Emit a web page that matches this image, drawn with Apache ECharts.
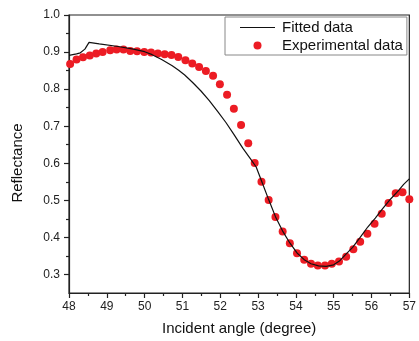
<!DOCTYPE html>
<html>
<head>
<meta charset="utf-8">
<script src="https://cdn.jsdelivr.net/npm/echarts@6/dist/echarts.min.js"></script>
<style>
html,body{margin:0;padding:0;background:#fff;}
#chart{width:419px;height:341px;}
</style>
</head>
<body>
<div id="chart"></div>
<script>
// Experimental data (incident angle in degrees, reflectance)
var expAngles = [48.03,48.20,48.37,48.55,48.72,48.89,49.09,49.26,49.44,49.62,
  49.80,49.99,50.17,50.35,50.53,50.71,50.89,51.08,51.26,51.44,
  51.62,51.81,51.99,52.18,52.36,52.55,52.74,52.91,53.09,53.28,
  53.46,53.65,53.84,54.03,54.22,54.40,54.58,54.77,54.95,55.14,
  55.33,55.52,55.70,55.89,56.08,56.27,56.45,56.64,56.82,57.00];
var expValues = [0.868,0.880,0.886,0.891,0.896,0.900,0.905,0.907,0.907,0.903,
  0.902,0.900,0.899,0.896,0.894,0.892,0.887,0.878,0.869,0.860,
  0.849,0.836,0.813,0.785,0.747,0.703,0.654,0.601,0.550,0.501,
  0.455,0.416,0.384,0.357,0.340,0.329,0.324,0.324,0.329,0.335,
  0.348,0.368,0.388,0.410,0.437,0.464,0.493,0.519,0.522,0.503];

// Fitted curve
var fitAngles = [48.00,48.20,48.30,48.42,48.53,48.80,49.30,49.70,50.00,50.20,
  50.45,50.73,50.90,51.06,51.27,51.49,51.71,51.93,52.15,52.36,52.60,52.80,52.95,53.10,
  53.28,53.46,53.65,53.84,54.03,54.22,54.40,54.60,54.80,55.00,
  55.15,55.30,55.50,55.70,55.90,56.10,56.30,56.50,56.70,56.85,57.00];
var fitValues = [0.891,0.895,0.898,0.908,0.926,0.922,0.915,0.908,0.901,0.893,
  0.880,0.863,0.851,0.838,0.818,0.795,0.769,0.740,0.710,0.678,0.640,0.612,0.590,0.550,
  0.502,0.456,0.417,0.385,0.358,0.340,0.329,0.323,0.322,0.326,
  0.336,0.352,0.373,0.400,0.428,0.452,0.478,0.503,0.525,0.543,0.558];

var yMajorTicks = [0.3,0.4,0.5,0.6,0.7,0.8,0.9,1.0];
var yMinorTicks = [0.35,0.45,0.55,0.65,0.75,0.85,0.95];
var seriesNames = ['Fitted data','Experimental data'];

function pairs(xs, ys){ return xs.map(function(x,i){ return [x, ys[i]]; }); }

var FONT = '"Liberation Sans", Arial, sans-serif';
var chart = echarts.init(document.getElementById('chart'), null, {renderer:'canvas'});
chart.setOption({
  animation: false,
  backgroundColor: '#fff',
  grid: {left: 69, right: 4, top: 15, bottom: 44, show: true, borderColor: '#222', borderWidth: 1.2, backgroundColor: 'transparent'},
  legend: {
    orient: 'vertical', left: 225, top: 17,
    padding: [3, 4, 2, 15], itemGap: 3, itemWidth: 35, itemHeight: 8,
    backgroundColor: '#fff', borderColor: '#888', borderWidth: 1,
    textStyle: {fontFamily: FONT, fontSize: 15, color: '#111', padding: [0, 0, 0, 2]},
    data: [{name: seriesNames[0], icon: 'path://M0,0 L35,0 L35,1.2 L0,1.2 Z'}, {name: seriesNames[1], icon: 'circle'}]
  },
  xAxis: {
    type: 'value', min: 48, max: 57, interval: 1,
    name: 'Incident angle (degree)', nameLocation: 'middle', nameGap: 28,
    nameTextStyle: {fontFamily: FONT, fontSize: 15, color: '#111'},
    axisLine: {show: true, lineStyle: {color: '#222', width: 1.2}},
    axisTick: {show: true, inside: false, length: 5, lineStyle: {color: '#222', width: 1.2}},
    minorTick: {show: true, splitNumber: 2, length: 3, lineStyle: {color: '#222', width: 1.2}},
    axisLabel: {margin: 8, fontFamily: FONT, fontSize: 12, color: '#222'},
    splitLine: {show: false}, minorSplitLine: {show: false}
  },
  yAxis: [{
    type: 'value', min: 0.25, max: 1.0,
    name: 'Reflectance', nameLocation: 'middle', nameGap: 44,
    nameTextStyle: {fontFamily: FONT, fontSize: 15, color: '#111', padding: [0, 18, 0, 0]},
    axisLine: {show: true, lineStyle: {color: '#222', width: 1.2}},
    axisTick: {show: true, inside: false, length: 5, customValues: yMajorTicks, lineStyle: {color: '#222', width: 1.2}},
    axisLabel: {margin: 9, fontFamily: FONT, fontSize: 12, color: '#222', customValues: yMajorTicks,
      formatter: function(v){ return v.toFixed(1); }},
    splitLine: {show: false}
  }, {
    type: 'value', min: 0.25, max: 1.0, position: 'left', offset: 0,
    axisLine: {show: false},
    axisTick: {show: true, inside: false, length: 3, customValues: yMinorTicks, lineStyle: {color: '#222', width: 1.2}},
    axisLabel: {show: false},
    splitLine: {show: false}
  }],
  series: [{
    name: seriesNames[0], type: 'line', data: pairs(fitAngles, fitValues),
    symbol: 'none', smooth: false, lineStyle: {color: '#111', width: 1.2}, itemStyle: {color: '#111'}, z: 3
  }, {
    name: seriesNames[1], type: 'scatter', data: pairs(expAngles, expValues),
    symbol: 'circle', symbolSize: 8, itemStyle: {color: '#ec1c24', opacity: 1}, z: 2
  }]
});
</script>
</body>
</html>
